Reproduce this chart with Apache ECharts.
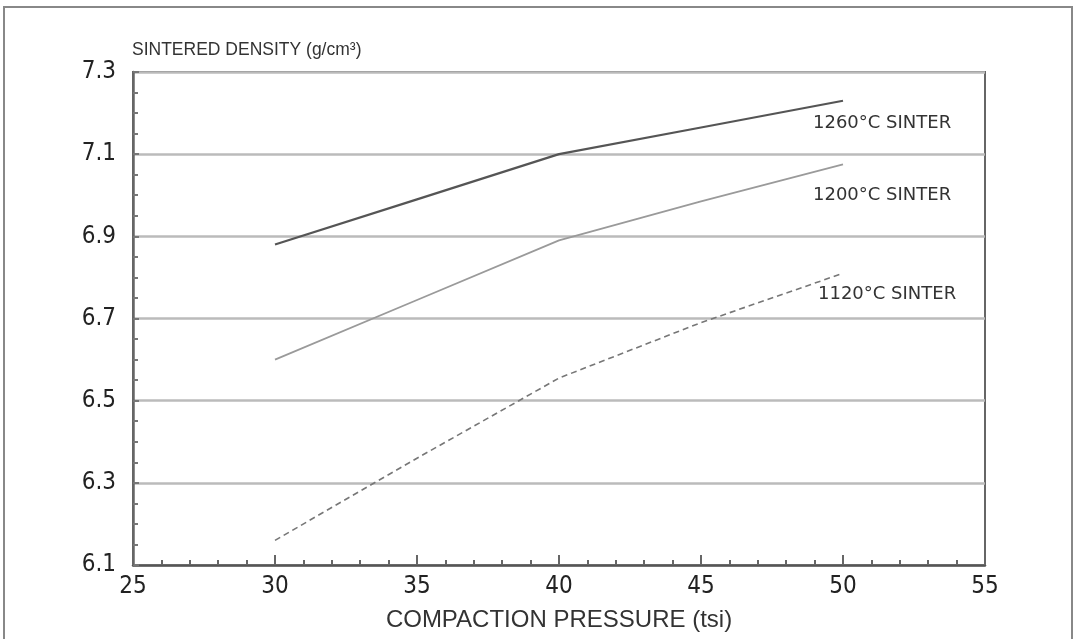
<!DOCTYPE html>
<html>
<head>
<meta charset="utf-8">
<script src="https://cdn.jsdelivr.net/npm/echarts@6/dist/echarts.min.js"></script>
<style>
  html,body{margin:0;padding:0;background:#fff;}
  #main{width:1078px;height:639px;}
</style>
</head>
<body>
<div id="main"></div>
<script>
// pressure (tsi)
var pressure = [30, 35, 40, 45, 50];
// sintered density (g/cm3)
var sinter1260 = [6.88, 6.99, 7.10, 7.165, 7.23];
var sinter1200 = [6.60, 6.745, 6.89, 6.985, 7.075];
var sinter1120 = [6.16, 6.36, 6.555, 6.69, 6.81];
var seriesNames = ['1260°C SINTER', '1200°C SINTER', '1120°C SINTER'];

function pairs(ys){
  var out = [];
  for (var i = 0; i < pressure.length; i++) out.push([pressure[i], ys[i]]);
  return out;
}

var main = document.getElementById('main');
var chart = echarts.init(main);
var tickFont = '"DejaVu Sans Condensed", "DejaVu Sans", sans-serif';

function lineSeries(name, ys, color, width, type, off){
  return {
    name: name,
    type: 'line',
    data: pairs(ys),
    symbol: 'none',
    silent: true,
    lineStyle: {color: color, width: width, type: type},
    endLabel: {
      show: true,
      formatter: name,
      offset: off,
      color: '#333',
      fontSize: 18,
      fontFamily: '"DejaVu Sans", sans-serif'
    }
  };
}

chart.setOption({
  backgroundColor: '#fff',
  animation: false,
  graphic: [{
    type: 'rect',
    shape: {x: 4, y: 7, width: 1068, height: 640},
    style: {fill: 'none', stroke: '#888', lineWidth: 2}
  }],
  grid: {
    left: 133, right: 93, top: 72, bottom: 74,
    outerBoundsMode: 'none',
    containLabel: false,
    show: true, borderColor: '#666', borderWidth: 2, backgroundColor: 'transparent'
  },
  xAxis: {
    type: 'value',
    min: 25, max: 55, interval: 5,
    name: 'COMPACTION PRESSURE (tsi)',
    nameLocation: 'middle',
    nameGap: 43,
    nameTextStyle: {color: '#333', fontSize: 24, fontFamily: '"Liberation Sans", Arial, sans-serif'},
    axisLine: {show: true, lineStyle: {color: '#555', width: 2.5}},
    axisTick: {show: true, inside: true, length: 10, lineStyle: {color: '#666', width: 2}},
    minorTick: {show: true, splitNumber: 5, length: 5, lineStyle: {color: '#666', width: 2}},
    axisLabel: {color: '#222', fontSize: 24, margin: 10, fontFamily: tickFont},
    splitLine: {show: false}
  },
  yAxis: {
    type: 'value',
    min: 6.1, max: 7.3, interval: 0.2,
    name: 'SINTERED DENSITY (g/cm³)',
    nameLocation: 'end',
    nameGap: 13,
    nameTextStyle: {color: '#333', fontSize: 17.5, align: 'left', padding: [0, 0, 0, -1], fontFamily: '"Liberation Sans", Arial, sans-serif'},
    axisLine: {show: true, lineStyle: {color: '#666', width: 2.5}},
    axisTick: {show: true, inside: true, length: 6, lineStyle: {color: '#777', width: 2}},
    minorTick: {show: true, splitNumber: 4, length: 5, lineStyle: {color: '#777', width: 2}},
    axisLabel: {
      color: '#222', fontSize: 24, margin: 17,
      fontFamily: tickFont,
      formatter: function(v){ return v.toFixed(1); }
    },
    splitLine: {show: true, lineStyle: {color: '#bbb', width: 2.5}}
  },
  series: [
    lineSeries(seriesNames[0], sinter1260, '#555', 2.2, 'solid', [-38, 23]),
    lineSeries(seriesNames[1], sinter1200, '#9a9a9a', 1.8, 'solid', [-38, 31]),
    lineSeries(seriesNames[2], sinter1120, '#777', 1.6, [6, 4], [-33, 21])
  ]
});
</script>
</body>
</html>
